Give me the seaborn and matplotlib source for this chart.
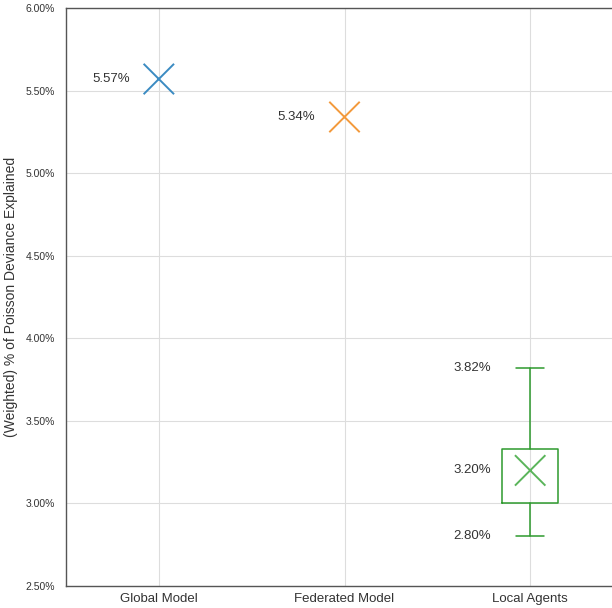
import matplotlib
matplotlib.use("Agg")
import matplotlib.pyplot as plt
from matplotlib.ticker import PercentFormatter
import seaborn as sns
import pandas as pd

# Model names on the x axis
categories = ["Global Model", "Federated Model", "Local Agents"]

# Single-value results (percent of Poisson deviance explained)
point_models = ["Global Model", "Federated Model"]
point_values = [5.57, 5.34]

# Distribution summary for the local agents
local_whisker_low = 2.80
local_q1 = 3.00
local_q3 = 3.33
local_whisker_high = 3.82
local_mean = 3.20

y_ticks = [2.5, 3.0, 3.5, 4.0, 4.5, 5.0, 5.5, 6.0]

blue = "#3b8bc2"
orange = "#f39a3c"
green = "#2e9a2e"
light_green = "#5bb55b"

sns.set_theme(style="whitegrid")
plt.rcParams["font.family"] = ["Liberation Sans", "DejaVu Sans"]

fig = plt.figure(figsize=(6.12, 6.08), dpi=100)
ax = fig.add_axes([66 / 612, 22 / 608, 557 / 612, 578 / 608])

# Category positions
pos = {c: i for i, c in enumerate(categories)}

# Box for local agents
stats = [{
    "whislo": local_whisker_low,
    "q1": local_q1,
    "med": local_q1,
    "q3": local_q3,
    "whishi": local_whisker_high,
    "mean": local_mean,
    "fliers": [],
    "label": "Local Agents",
}]
ax.bxp(stats, positions=[pos["Local Agents"]], widths=0.3, showmeans=False,
       showfliers=False, patch_artist=False, manage_ticks=False,
       boxprops=dict(color=green, linewidth=1.1),
       whiskerprops=dict(color=green, linewidth=1.1),
       capprops=dict(color=green, linewidth=1.1),
       medianprops=dict(linewidth=0),
       capwidths=0.15)

# Point results as X markers
df = pd.DataFrame({
    "model": point_models + ["Local Agents"],
    "value": point_values + [local_mean],
})
df["x"] = df["model"].map(pos)
sns.scatterplot(data=df, x="x", y="value", hue="model",
                palette=[blue, orange, light_green], marker="x",
                s=480, linewidth=1.4, legend=False, ax=ax, zorder=5)

# Value labels
label_kw = dict(textcoords="offset points", ha="right", va="center",
                fontsize=9.5, color="#333333")
for m, v in zip(point_models, point_values):
    ax.annotate(f"{v:.2f}%", (pos[m], v), xytext=(-21, 0), **label_kw)
for v in [local_whisker_high, local_mean, local_whisker_low]:
    ax.annotate(f"{v:.2f}%", (pos["Local Agents"], v), xytext=(-28, 0), **label_kw)

ax.set_xlim(-0.5, 2.5)
ax.set_ylim(2.5, 6.0)
ax.set_xticks(range(len(categories)))
ax.set_xticklabels(categories, fontsize=9.5, color="#333333")
ax.set_yticks(y_ticks)
ax.yaxis.set_major_formatter(PercentFormatter(decimals=2))
ax.tick_params(axis="y", labelsize=7.5, colors="#333333", pad=2)
ax.tick_params(axis="x", pad=-1)
ax.set_xlabel("")
ax.set_ylabel("(Weighted) % of Poisson Deviance Explained", fontsize=10,
              color="#333333", labelpad=5)
ax.grid(True, color="#dddddd", linewidth=0.8)
for s in ax.spines.values():
    s.set_color("#555555")
    s.set_linewidth(1.0)

fig.savefig("out.png", dpi=100)
